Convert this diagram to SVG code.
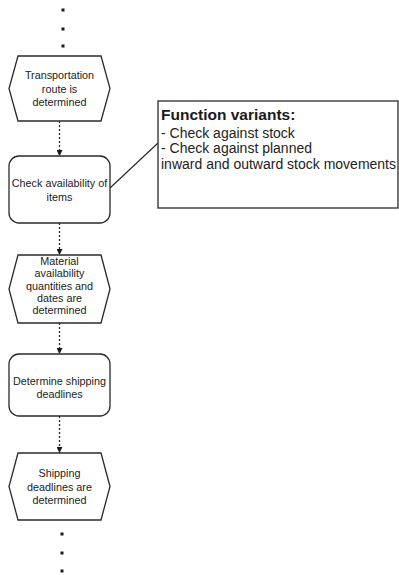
<svg xmlns="http://www.w3.org/2000/svg" width="399" height="575" viewBox="0 0 399 575">
  <defs>
    <style>
      .shape { fill: #ffffff; stroke: #2a2a2a; stroke-width: 1.3; }
      .label { font-family: "Liberation Sans", Arial, sans-serif; font-size: 10.8px; fill: #222; text-anchor: middle; }
      .flow { fill: none; stroke: #2a2a2a; stroke-width: 1.3; stroke-dasharray: 2 2; }
      .dot { fill: #1a1a1a; }
      .note { font-family: "Liberation Sans", Arial, sans-serif; font-size: 14px; fill: #222; }
      .note-title { font-family: "Liberation Sans", Arial, sans-serif; font-size: 15.5px; font-weight: bold; fill: #1a1a1a; }
    </style>
    <marker id="arrow" viewBox="0 0 6 6" refX="6" refY="3" markerWidth="6" markerHeight="6" markerUnits="userSpaceOnUse" orient="auto">
      <path d="M0,0 L6,3 L0,6 Z" fill="#1a1a1a"/>
    </marker>
  </defs>
  <rect width="399" height="575" fill="#ffffff"/>

  <!-- continuation dots above -->
  <g id="dots-top">
    <rect class="dot" x="61.5" y="8.5" width="3" height="3"/>
    <rect class="dot" x="61.5" y="27.5" width="3" height="3"/>
    <rect class="dot" x="61.5" y="44.5" width="3" height="3"/>
  </g>

  <!-- connectors -->
  <g id="connectors">
    <line class="flow" x1="59.5" y1="121" x2="59.5" y2="156" marker-end="url(#arrow)"/>
    <line class="flow" x1="59.5" y1="223" x2="59.5" y2="255" marker-end="url(#arrow)"/>
    <line class="flow" x1="59.5" y1="323" x2="59.5" y2="354" marker-end="url(#arrow)"/>
    <line class="flow" x1="59.5" y1="416" x2="59.5" y2="453" marker-end="url(#arrow)"/>
    <line x1="110" y1="188" x2="158" y2="143" stroke="#2a2a2a" stroke-width="1.2"/>
  </g>

  <g id="event-route">
    <polygon class="shape" points="18,56 101,56 110,88.5 101,121 18,121 9,88.5"/>
    <text class="label" x="59.5" y="79">Transportation</text>
    <text class="label" x="59.5" y="92.5">route is</text>
    <text class="label" x="59.5" y="106">determined</text>
  </g>

  <g id="function-check">
    <rect class="shape" x="9" y="156" width="101" height="67" rx="10" ry="10"/>
    <text class="label" x="59.5" y="187">Check availability of</text>
    <text class="label" x="59.5" y="201">items</text>
  </g>

  <g id="event-material">
    <polygon class="shape" points="18,255 101,255 110,289 101,323 18,323 9,289"/>
    <text class="label" x="59.5" y="265">Material</text>
    <text class="label" x="59.5" y="277">availability</text>
    <text class="label" x="59.5" y="289.5">quantities and</text>
    <text class="label" x="59.5" y="301.5">dates are</text>
    <text class="label" x="59.5" y="314">determined</text>
  </g>

  <g id="function-deadlines">
    <rect class="shape" x="9" y="354" width="101" height="62" rx="10" ry="10"/>
    <text class="label" x="59.5" y="385">Determine shipping</text>
    <text class="label" x="59.5" y="398">deadlines</text>
  </g>

  <g id="event-deadlines">
    <polygon class="shape" points="18,453 101,453 110,486.5 101,520 18,520 9,486.5"/>
    <text class="label" x="59.5" y="477">Shipping</text>
    <text class="label" x="59.5" y="491">deadlines are</text>
    <text class="label" x="59.5" y="504">determined</text>
  </g>

  <g id="variants-note">
    <rect class="shape" x="158" y="101" width="240" height="107"/>
    <text class="note-title" x="161" y="120">Function variants:</text>
    <text class="note" x="161" y="137.5">- Check against stock</text>
    <text class="note" x="161" y="153">- Check against planned</text>
    <text class="note" x="161" y="168.6">inward and outward stock movements</text>
  </g>

  <!-- continuation dots below -->
  <g id="dots-bottom">
    <rect class="dot" x="60.5" y="532.5" width="3" height="3"/>
    <rect class="dot" x="60.5" y="551.5" width="3" height="3"/>
    <rect class="dot" x="60.5" y="569.5" width="3" height="3"/>
  </g>
</svg>
